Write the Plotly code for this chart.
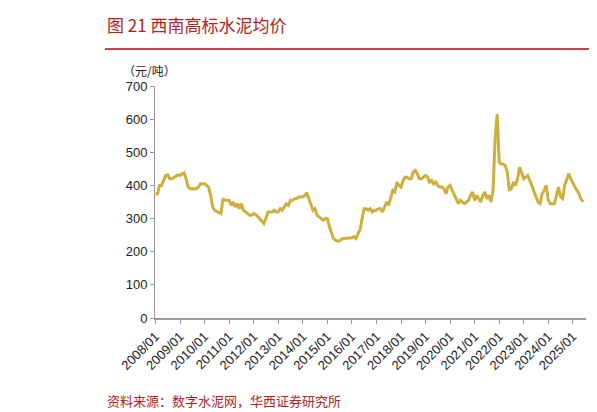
import pandas as pd
import plotly.graph_objects as go

price = [
    375, 375, 400, 400, 415, 430, 432, 420, 420, 425, 428, 432,
    430, 435, 438, 420, 395, 390, 390, 390, 390, 395, 405, 405,
    405, 400, 395, 370, 335, 325, 322, 318, 315, 360, 355, 355,
    355, 340, 350, 335, 345, 330, 345, 325, 320, 315, 310, 310,
    315, 312, 305, 300, 290, 285, 300, 320, 320, 320, 325, 320,
    320, 330, 325, 335, 345, 340, 355, 355, 360, 360, 365, 365,
    365, 370, 378, 360, 345, 325, 330, 310, 305, 300, 295, 300,
    300, 275, 260, 240, 235, 232, 232, 238, 240, 240, 242, 242,
    242, 245, 240, 255, 265, 300, 330, 330, 325, 330, 320, 325,
    325, 330, 330, 320, 335, 350, 340, 365, 385, 380, 410, 400,
    395, 415, 425, 425, 420, 420, 440, 445, 435, 420, 420, 425,
    430, 425, 410, 415, 405, 410, 400, 395, 395, 390, 375, 395,
    400, 385, 375, 360, 345, 355, 350, 345, 350, 355, 370, 380,
    355, 370, 360, 350, 370, 380, 360, 370, 350, 385, 540, 615,
    470, 465, 465, 460, 440, 385, 390, 410, 400, 420, 455, 440,
    420, 425, 430, 415, 400, 385, 370, 350, 345, 375, 385, 400,
    355, 345, 345, 345, 370, 395, 365, 360, 400, 420, 435, 420,
    405, 395, 385, 375, 360, 350,
]
dates = pd.date_range("2008-01-01", periods=len(price), freq="MS")
tick_vals = pd.date_range("2008-01-01", "2025-01-01", freq="YS")
tick_text = [d.strftime("%Y/%m") for d in tick_vals]

fig = go.Figure()
fig.add_trace(go.Scatter(x=dates, y=price, mode="lines",
                         line=dict(color="#CDB03C", width=3)))

fig.update_layout(
    width=597, height=412, margin=dict(l=147, r=19, t=78, b=102),
    plot_bgcolor="white", paper_bgcolor="white", showlegend=False,
    font=dict(family="Liberation Sans, Noto Sans CJK SC", size=13, color="#222"),
    shapes=[dict(type="line", xref="paper", yref="paper", x0=-0.116, x1=1.05,
                 y0=1.16, y1=1.16, line=dict(color="#C00000", width=1.5))],
    annotations=[
        dict(text="图 21 西南高标水泥均价", xref="paper", yref="paper", x=-0.116, y=1.265,
             xanchor="left", yanchor="middle", showarrow=False,
             font=dict(family="Noto Sans CJK SC", size=17, color="#B22222")),
        dict(text="（元/吨）", xref="paper", yref="paper", x=-0.08, y=1.02,
             xanchor="left", yanchor="bottom", showarrow=False,
             font=dict(family="Noto Sans CJK SC", size=12, color="#222")),
        dict(text="资料来源：数字水泥网，华西证券研究所", xref="paper", yref="paper",
             x=-0.116, y=-0.305, xanchor="left", yanchor="top", showarrow=False,
             font=dict(family="Noto Sans CJK SC", size=13, color="#B22222")),
    ],
)
fig.update_xaxes(tickvals=tick_vals, ticktext=tick_text, tickangle=-45,
                 showgrid=False, showline=True, linecolor="#999", linewidth=1.5,
                 ticks="outside", ticklen=4, tickcolor="#999",
                 range=[pd.Timestamp("2007-12-25"), pd.Timestamp("2025-07-15")])
fig.update_yaxes(range=[0, 700], dtick=100, showgrid=False, showline=True,
                 linecolor="#999", linewidth=1, ticks="outside", ticklen=4,
                 tickcolor="#999")
fig.write_html("out.html")
